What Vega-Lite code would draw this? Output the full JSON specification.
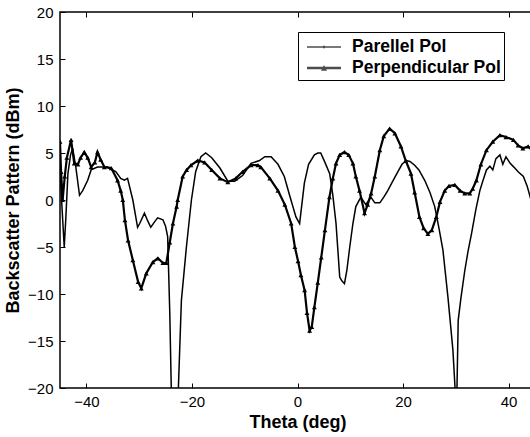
{
  "$schema": "https://vega.github.io/schema/vega-lite/v6.json",
  "autosize": {"type": "none"},
  "padding": {"left": 60, "top": 12, "right": 0, "bottom": 49},
  "width": 475,
  "height": 376,
  "background": "white",
  "config": {
    "view": {"stroke": "black", "strokeWidth": 1.5},
    "axis": {"domain": false, "grid": false, "tickColor": "black", "tickSize": -5, "tickWidth": 1, "labelFont": "Liberation Sans", "labelFontSize": 15, "labelColor": "black", "titleFont": "Liberation Sans", "titleFontSize": 18, "titleFontWeight": "bold", "titleColor": "black"}
  },
  "datasets": {
    "par": [
      {"theta": -45, "pattern": 3.5}, {"theta": -44.7, "pattern": 0}, {"theta": -44.2, "pattern": -5.0}, {"theta": -43.9, "pattern": -2}, {"theta": -43.5, "pattern": 2.8}, {"theta": -43.0, "pattern": 4.8}, {"theta": -42.6, "pattern": 5.5}, {"theta": -42.0, "pattern": 3.5}, {"theta": -41.3, "pattern": 0.5}, {"theta": -40.7, "pattern": 1.0}, {"theta": -39.75, "pattern": 2.1}, {"theta": -39.1, "pattern": 3.2}, {"theta": -37.9, "pattern": 3.5}, {"theta": -36.0, "pattern": 3.5}, {"theta": -34.4, "pattern": 3.0}, {"theta": -33.5, "pattern": 2.3}, {"theta": -32.8, "pattern": 2.1}, {"theta": -32.2, "pattern": 2.3}, {"theta": -31.2, "pattern": 0}, {"theta": -30.3, "pattern": -2.9}, {"theta": -29.9, "pattern": -2.5}, {"theta": -29.0, "pattern": -1.4}, {"theta": -28.4, "pattern": -2.2}, {"theta": -27.8, "pattern": -2.9}, {"theta": -27.05, "pattern": -2.3}, {"theta": -26.5, "pattern": -1.9}, {"theta": -25.5, "pattern": -2.1}, {"theta": -25.0, "pattern": -2.8}, {"theta": -24.6, "pattern": -3.9}, {"theta": -24.2, "pattern": -12}, {"theta": -23.9, "pattern": -20.5}, {"theta": -23.3, "pattern": -25}, {"theta": -22.6, "pattern": -20.5}, {"theta": -22.0, "pattern": -10.7}, {"theta": -21.05, "pattern": -5}, {"theta": -20.1, "pattern": 0}, {"theta": -19.3, "pattern": 3.0}, {"theta": -18.3, "pattern": 4.6}, {"theta": -17.4, "pattern": 5.0}, {"theta": -16.25, "pattern": 4.5}, {"theta": -14.7, "pattern": 3.4}, {"theta": -13.2, "pattern": 2.0}, {"theta": -11.9, "pattern": 2.0}, {"theta": -10.4, "pattern": 2.6}, {"theta": -8.8, "pattern": 3.9}, {"theta": -7.2, "pattern": 4.2}, {"theta": -6.2, "pattern": 4.6}, {"theta": -5.0, "pattern": 4.6}, {"theta": -3.7, "pattern": 3.8}, {"theta": -2.5, "pattern": 2.5}, {"theta": -1.5, "pattern": 0.5}, {"theta": -0.3, "pattern": -1.8}, {"theta": 0.4, "pattern": -2.5}, {"theta": 1.3, "pattern": 1.8}, {"theta": 2.1, "pattern": 3.8}, {"theta": 3.2, "pattern": 4.8}, {"theta": 3.85, "pattern": 5.0}, {"theta": 4.4, "pattern": 5.0}, {"theta": 5.2, "pattern": 4.0}, {"theta": 6.1, "pattern": 2.8}, {"theta": 6.7, "pattern": 0.5}, {"theta": 7.3, "pattern": -2.5}, {"theta": 8.0, "pattern": -8.2}, {"theta": 8.4, "pattern": -8.6}, {"theta": 8.9, "pattern": -8.9}, {"theta": 9.35, "pattern": -7.5}, {"theta": 9.9, "pattern": -5.0}, {"theta": 10.5, "pattern": -2.5}, {"theta": 11.05, "pattern": -0.7}, {"theta": 12.0, "pattern": 0.3}, {"theta": 12.95, "pattern": -0.5}, {"theta": 13.9, "pattern": 0.3}, {"theta": 14.65, "pattern": -0.3}, {"theta": 15.6, "pattern": -0.3}, {"theta": 16.35, "pattern": 0.3}, {"theta": 17.1, "pattern": 1.0}, {"theta": 18.05, "pattern": 2.0}, {"theta": 19.0, "pattern": 3.0}, {"theta": 19.8, "pattern": 3.8}, {"theta": 20.6, "pattern": 4.2}, {"theta": 21.3, "pattern": 4.1}, {"theta": 22.2, "pattern": 3.7}, {"theta": 23.0, "pattern": 3.2}, {"theta": 24.1, "pattern": 2.1}, {"theta": 25.1, "pattern": 0.8}, {"theta": 26.0, "pattern": -0.7}, {"theta": 26.8, "pattern": -3.0}, {"theta": 27.55, "pattern": -5.3}, {"theta": 28.5, "pattern": -10.3}, {"theta": 29.45, "pattern": -16}, {"theta": 29.9, "pattern": -20.5}, {"theta": 30.0, "pattern": -24}, {"theta": 30.2, "pattern": -20.5}, {"theta": 30.45, "pattern": -12.8}, {"theta": 30.95, "pattern": -10.5}, {"theta": 31.7, "pattern": -7.5}, {"theta": 32.3, "pattern": -5.5}, {"theta": 33.0, "pattern": -3.5}, {"theta": 33.8, "pattern": -1.0}, {"theta": 34.55, "pattern": 1.0}, {"theta": 35.1, "pattern": 2.0}, {"theta": 35.8, "pattern": 3.2}, {"theta": 36.45, "pattern": 3.6}, {"theta": 37.0, "pattern": 3.2}, {"theta": 37.6, "pattern": 4.4}, {"theta": 38.35, "pattern": 4.8}, {"theta": 38.9, "pattern": 3.8}, {"theta": 39.5, "pattern": 4.6}, {"theta": 40.3, "pattern": 3.9}, {"theta": 41.0, "pattern": 3.5}, {"theta": 41.8, "pattern": 3.0}, {"theta": 42.8, "pattern": 2.5}, {"theta": 43.5, "pattern": 1.5}, {"theta": 44.1, "pattern": 0.3}, {"theta": 45, "pattern": 1.0}
    ],
    "perp": [
      {"theta": -45, "pattern": 6.2}, {"theta": -44.8, "pattern": 3}, {"theta": -44.5, "pattern": 0}, {"theta": -44.1, "pattern": 2.5}, {"theta": -43.7, "pattern": 4.5}, {"theta": -42.9, "pattern": 6.4}, {"theta": -42.3, "pattern": 3.9}, {"theta": -41.6, "pattern": 3.8}, {"theta": -41.1, "pattern": 4.5}, {"theta": -40.4, "pattern": 5.1}, {"theta": -39.75, "pattern": 4.5}, {"theta": -39.1, "pattern": 3.5}, {"theta": -38.4, "pattern": 4.0}, {"theta": -37.9, "pattern": 5.1}, {"theta": -37.3, "pattern": 4.3}, {"theta": -36.6, "pattern": 3.5}, {"theta": -35.3, "pattern": 3.4}, {"theta": -34.1, "pattern": 2.1}, {"theta": -33.5, "pattern": 1.0}, {"theta": -33.1, "pattern": 0}, {"theta": -32.7, "pattern": -2.15}, {"theta": -32.1, "pattern": -4.3}, {"theta": -31.2, "pattern": -6.4}, {"theta": -30.2, "pattern": -8.7}, {"theta": -29.6, "pattern": -9.4}, {"theta": -28.65, "pattern": -7.8}, {"theta": -27.4, "pattern": -6.6}, {"theta": -26.45, "pattern": -6.2}, {"theta": -25.5, "pattern": -6.7}, {"theta": -24.85, "pattern": -6.7}, {"theta": -24.2, "pattern": -4.5}, {"theta": -23.6, "pattern": -2.5}, {"theta": -22.9, "pattern": -0.7}, {"theta": -22.7, "pattern": 0}, {"theta": -21.75, "pattern": 2.5}, {"theta": -21.0, "pattern": 3.2}, {"theta": -20.2, "pattern": 3.7}, {"theta": -18.9, "pattern": 4.2}, {"theta": -17.6, "pattern": 4.0}, {"theta": -16.25, "pattern": 3.2}, {"theta": -14.7, "pattern": 2.3}, {"theta": -13.2, "pattern": 1.9}, {"theta": -11.7, "pattern": 2.3}, {"theta": -10.4, "pattern": 3.0}, {"theta": -8.8, "pattern": 3.7}, {"theta": -7.5, "pattern": 3.7}, {"theta": -6.95, "pattern": 3.5}, {"theta": -5.25, "pattern": 2.3}, {"theta": -3.7, "pattern": 1.0}, {"theta": -2.4, "pattern": -0.5}, {"theta": -1.2, "pattern": -2.5}, {"theta": -0.5, "pattern": -5.0}, {"theta": 0.1, "pattern": -6.5}, {"theta": 0.65, "pattern": -8}, {"theta": 1.35, "pattern": -9.6}, {"theta": 1.8, "pattern": -12}, {"theta": 2.3, "pattern": -13.9}, {"theta": 2.7, "pattern": -13.5}, {"theta": 3.2, "pattern": -11.4}, {"theta": 3.85, "pattern": -8.8}, {"theta": 4.5, "pattern": -6.1}, {"theta": 5.2, "pattern": -3.2}, {"theta": 6.05, "pattern": 0.3}, {"theta": 6.7, "pattern": 2.3}, {"theta": 7.3, "pattern": 3.9}, {"theta": 8.0, "pattern": 4.8}, {"theta": 8.9, "pattern": 5.1}, {"theta": 9.7, "pattern": 4.8}, {"theta": 10.5, "pattern": 3.9}, {"theta": 11.05, "pattern": 2.5}, {"theta": 11.75, "pattern": 1.0}, {"theta": 12.7, "pattern": -1.4}, {"theta": 13.3, "pattern": -0.5}, {"theta": 13.95, "pattern": 0.7}, {"theta": 14.65, "pattern": 2.5}, {"theta": 15.6, "pattern": 5.3}, {"theta": 16.35, "pattern": 6.8}, {"theta": 17.45, "pattern": 7.6}, {"theta": 18.45, "pattern": 7.1}, {"theta": 19.6, "pattern": 5.7}, {"theta": 20.5, "pattern": 4.2}, {"theta": 21.5, "pattern": 2.8}, {"theta": 22.2, "pattern": 0.8}, {"theta": 23.1, "pattern": -1.8}, {"theta": 23.9, "pattern": -3.0}, {"theta": 24.7, "pattern": -3.6}, {"theta": 25.45, "pattern": -3.2}, {"theta": 26.3, "pattern": -1.8}, {"theta": 27.0, "pattern": -0.2}, {"theta": 27.9, "pattern": 1.0}, {"theta": 28.7, "pattern": 1.5}, {"theta": 29.8, "pattern": 1.6}, {"theta": 30.8, "pattern": 1.0}, {"theta": 31.7, "pattern": 0.7}, {"theta": 32.65, "pattern": 0.7}, {"theta": 33.2, "pattern": 1.2}, {"theta": 33.9, "pattern": 2.1}, {"theta": 34.75, "pattern": 3.8}, {"theta": 35.8, "pattern": 5.3}, {"theta": 37.0, "pattern": 6.2}, {"theta": 38.35, "pattern": 6.9}, {"theta": 39.5, "pattern": 6.7}, {"theta": 40.9, "pattern": 6.4}, {"theta": 41.8, "pattern": 5.8}, {"theta": 42.7, "pattern": 5.5}, {"theta": 43.7, "pattern": 5.7}, {"theta": 45, "pattern": 5.0}
    ],
    "legend": [
      {"pol": "Parellel Pol"}, {"pol": "Perpendicular Pol"}
    ]
  },
  "layer": [
    {
      "data": {"name": "par"},
      "mark": {"type": "line", "color": "black", "strokeWidth": 1.5, "clip": true},
      "encoding": {
        "x": {"field": "theta", "type": "quantitative", "scale": {"domain": [-45, 45], "nice": false, "zero": false}, "axis": {"orient": "bottom", "values": [-40, -20, 0, 20, 40], "labelPadding": 11, "title": "Theta (deg)", "titlePadding": 4}},
        "y": {"field": "pattern", "type": "quantitative", "scale": {"domain": [-20, 20], "nice": false, "zero": false}, "axis": {"orient": "left", "values": [-20, -15, -10, -5, 0, 5, 10, 15, 20], "labelPadding": 12, "title": "Backscatter Pattern (dBm)", "titlePadding": 5}}
      }
    },
    {
      "data": {"name": "perp"},
      "mark": {"type": "line", "color": "black", "strokeWidth": 2.2, "clip": true},
      "encoding": {
        "x": {"field": "theta", "type": "quantitative", "axis": null},
        "y": {"field": "pattern", "type": "quantitative", "axis": null}
      }
    },
    {
      "data": {"name": "perp"},
      "mark": {"type": "point", "shape": "triangle-up", "filled": true, "color": "black", "opacity": 1, "size": 24, "clip": true},
      "encoding": {
        "x": {"field": "theta", "type": "quantitative", "axis": null},
        "y": {"field": "pattern", "type": "quantitative", "axis": null}
      }
    },
    {
      "data": {"name": "legend"},
      "transform": [{"filter": "datum.pol == 'none'"}],
      "mark": {"type": "point", "filled": true, "color": "black"},
      "encoding": {
        "x": {"datum": 0, "type": "quantitative", "axis": {"orient": "top", "values": [-40, -20, 0, 20, 40], "labels": false, "title": null}},
        "y": {"datum": 0, "type": "quantitative", "axis": {"orient": "right", "values": [-20, -15, -10, -5, 0, 5, 10, 15, 20], "labels": false, "title": null}},
        "shape": {
          "field": "pol", "type": "nominal",
          "scale": {"domain": ["Parellel Pol", "Perpendicular Pol"], "range": ["M-0.5,-0.06H2.33V0.06H-0.5Z M0.84,-0.1H1.0V0.1H0.84Z", "M-0.5,-0.1H2.33V0.1H-0.5Z M0.67,0.22L0.92,-0.26L1.17,0.22Z"]},
          "legend": {
            "title": null, "orient": "none", "legendX": 238, "legendY": 20,
            "strokeColor": "black", "fillColor": "white", "padding": 3,
            "symbolSize": 576, "symbolStrokeWidth": 0, "symbolFillColor": "black",
            "labelFont": "Liberation Sans", "labelFontSize": 17.5, "labelFontWeight": "bold", "labelColor": "black", "labelOffset": 27, "rowPadding": 0,
            "labelExpr": "(datum.label == 'Parellel Pol' ? '\u00a0' : '') + datum.label + '\u00a0\u00a0\u00a0\u00a0'",
            "encode": {"symbols": {"update": {"fill": {"value": "black"}, "stroke": {"value": "transparent"}, "strokeWidth": {"value": 0}, "opacity": {"value": 1}}}}
          }
        }
      }
    }
  ],
  "resolve": {"axis": {"x": "independent", "y": "independent"}}
}
